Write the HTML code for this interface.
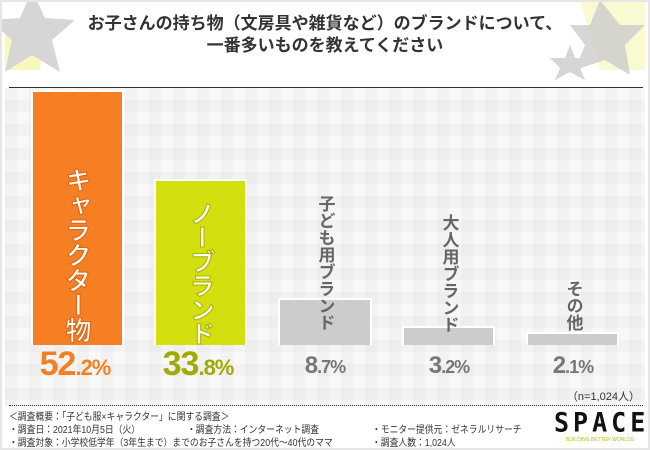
<!DOCTYPE html>
<html><head><meta charset="utf-8"><style>
*{margin:0;padding:0;box-sizing:border-box}
body{width:650px;height:450px;overflow:hidden;font-family:"Liberation Sans","Noto Sans CJK JP",sans-serif;background:#fff;position:relative}
.bg{position:absolute;left:5px;top:88px;width:640px;height:360px;background-color:#f8f8f8;
background-image:linear-gradient(90deg,rgba(0,0,0,0.025) 50%,transparent 50%),linear-gradient(0deg,rgba(0,0,0,0.02) 50%,transparent 50%);background-size:24px 24px}
.frame{position:absolute;left:0;top:0;width:650px;height:450px;border:2px solid #e6e6e6}
.title{position:absolute;left:0;top:13px;width:650px;text-align:center;font-weight:bold;font-size:17px;line-height:22px;color:#333}
.hline{position:absolute;left:9px;top:87px;width:634px;height:1px;background:#333}
.bar{position:absolute;border:2px solid #fff;border-bottom:none}
.vt{position:absolute;writing-mode:vertical-rl;text-orientation:upright;font-weight:bold;left:50%;transform:translateX(-50%)}
.pct{position:absolute;font-weight:bold;text-align:center;width:110px;letter-spacing:-1px}
.pct b{font-size:34px}.pct span{font-size:22px}
.foot{position:absolute;left:9px;font-size:10px;color:#333;white-space:nowrap;transform:scaleX(0.88);transform-origin:left top}
</style></head><body>
<div class="bg"></div>
<svg style="position:absolute;left:0;top:0" width="650" height="88">
<polygon points="5,20 45,20 40,70 5,70" fill="#eef27a" opacity="0.5"/>
<polygon points="32,-10 45,18 75,20 52,40 60,72 32,55 5,72 12,40 -10,20 20,18" fill="#d6d6d6"/>
<polygon points="580,0 645,0 645,70 600,70" fill="#eef27a" opacity="0.35"/>
<polygon points="600,0 620,25 645,25 625,45 630,75 605,60 575,70 585,45 570,25 590,25" fill="#cccccc" opacity="0.8"/>
<polygon points="570,45 575,58 590,58 580,68 585,80 570,72 555,80 560,68 550,58 565,58" fill="#d6d6d6"/>
</svg>
<div class="title">お子さんの持ち物（文房具や雑貨など）のブランドについて、<br>一番多いものを教えてください</div>
<div class="hline"></div>

<div class="bar" style="left:31px;top:90px;width:93px;height:255px;background:#f57f22"><div class="vt" style="top:75px;font-size:26px;color:#fff;-webkit-text-stroke:1px #d96510;letter-spacing:-1px">キャラクター物</div></div>
<div class="bar" style="left:154px;top:179px;width:93px;height:166px;background:#d3df0f"><div class="vt" style="top:20px;font-size:25px;color:#fff;-webkit-text-stroke:1px #a8b300;letter-spacing:-1px">ノーブランド</div></div>
<div class="bar" style="left:278px;top:298px;width:94px;height:47px;background:#cccccc"></div>
<div class="vt" style="left:325px;top:195px;font-size:17px;color:#666">子ども用ブランド</div>
<div class="bar" style="left:402px;top:326px;width:93px;height:19px;background:#cccccc"></div>
<div class="vt" style="left:449px;top:214px;font-size:17px;color:#666">大人用ブランド</div>
<div class="bar" style="left:526px;top:332px;width:93px;height:13px;background:#cccccc"></div>
<div class="vt" style="left:573px;top:280px;font-size:17px;color:#666">その他</div>

<div class="pct" style="left:20px;top:345px;color:#f57f22"><b>52</b><span>.2%</span></div>
<div class="pct" style="left:143px;top:345px;color:#a0aa00"><b>33</b><span>.8%</span></div>
<div class="pct" style="left:270px;top:352px;color:#777"><span style="font-size:24px">8</span><span style="font-size:18px">.7%</span></div>
<div class="pct" style="left:394px;top:352px;color:#777"><span style="font-size:24px">3</span><span style="font-size:18px">.2%</span></div>
<div class="pct" style="left:518px;top:352px;color:#777"><span style="font-size:24px">2</span><span style="font-size:18px">.1%</span></div>

<div style="position:absolute;right:10px;top:388px;font-size:11px;color:#333">（n=1,024人）</div>
<div style="position:absolute;left:9px;top:405px;width:634px;border-top:1px dotted #333"></div>
<div style="position:absolute;left:4px;top:407px;width:642px;height:41px;background:#fff"></div>
<div class="foot" style="top:408px">＜調査概要：「子ども服×キャラクター」に関する調査＞</div>
<div class="foot" style="top:421px">・調査日：2021年10月5日（火）</div>
<div class="foot" style="top:421px;left:187px">・調査方法：インターネット調査</div>
<div class="foot" style="top:421px;left:372px">・モニター提供元：ゼネラルリサーチ</div>
<div class="foot" style="top:434px">・調査対象：小学校低学年（3年生まで）までのお子さんを持つ20代〜40代のママ</div>
<div class="foot" style="top:434px;left:372px">・調査人数：1,024人</div>
<div style="position:absolute;left:554px;top:408px;font-size:25px;font-weight:900;letter-spacing:4px;color:#111;font-family:'DejaVu Sans Mono',monospace;transform:scaleY(1.05)">SPACE</div>
<div style="position:absolute;left:566px;top:437px;font-size:5px;color:#b5c200">BUILDING BETTER WORLDS</div>
<div class="frame"></div>
</body></html>
